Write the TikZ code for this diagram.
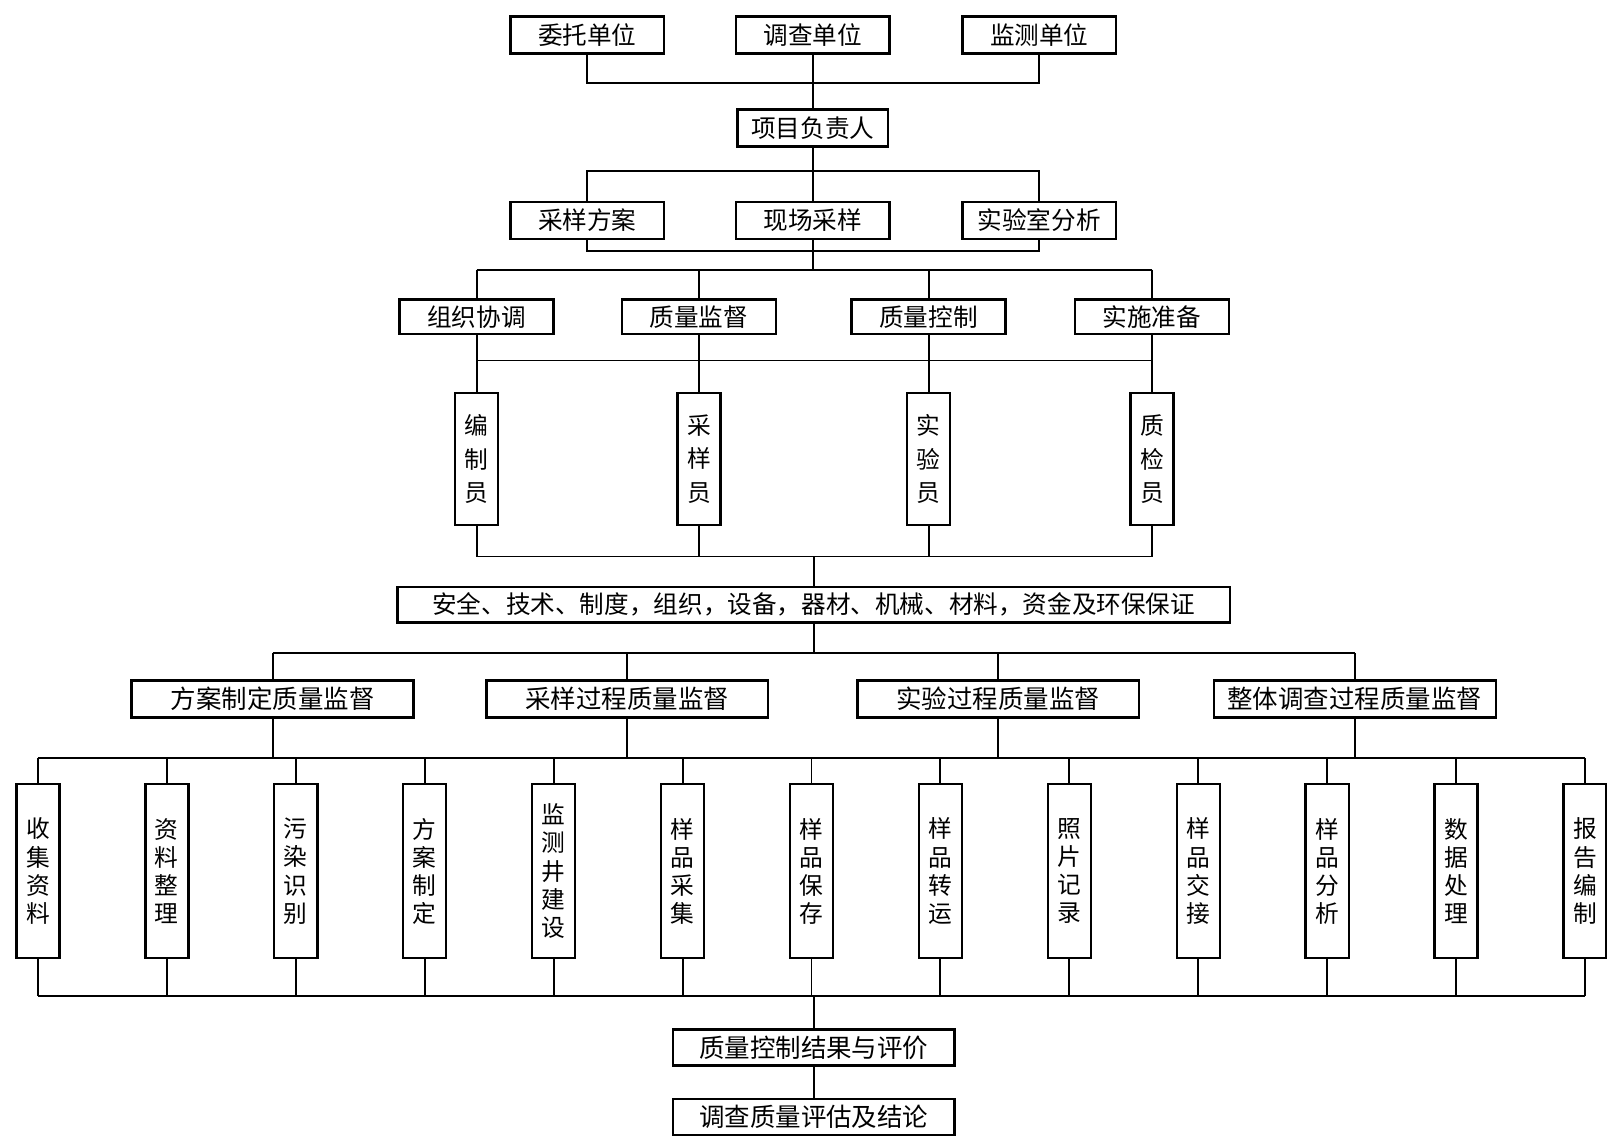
\documentclass[tikz,border=0pt]{standalone}
\usepackage{fontspec}
\setmainfont{Noto Sans CJK SC}
\newlength{\px}
\setlength{\px}{0.0204974cm}
\begin{document}
\begin{tikzpicture}[x=\px, y=-\px,
  box/.style={draw, line width=1.4pt, inner sep=0pt, fill=white, font=\fontsize{14}{16}\selectfont},
  tbox/.style={box, minimum width=150\px, minimum height=36\px},
  mbox/.style={box, minimum width=150\px, minimum height=34\px},
  vbox/.style={box, minimum width=42\px, minimum height=129\px, align=center, font=\fontsize{13.5}{19}\selectfont},
  wbox/.style={box, minimum width=42\px, minimum height=170\px, align=center, font=\fontsize{13.5}{16}\selectfont},
  qbox/.style={box, minimum width=275\px, minimum height=36\px, font=\fontsize{14.5}{16}\selectfont},
  lbox/.style={box, minimum width=812\px, minimum height=35\px, font=\fontsize{14}{16}\selectfont},
  link/.style={line width=1.1pt},
  thin/.style={line width=0.7pt}]
\useasboundingbox[fill=white] (0,0) rectangle (1568,1108);

% bus level coordinates
\coordinate (b1) at (0,81);
\coordinate (b2) at (0,167);
\coordinate (b3) at (0,245);
\coordinate (b4) at (0,263);
\coordinate (b5) at (0,352);
\coordinate (b6) at (0,543);
\coordinate (b7) at (0,637);
\coordinate (b8) at (0,740);
\coordinate (b9) at (0,972);

% top units
\node[tbox] (t1) at (573,34) {委托单位};
\node[tbox] (t2) at (793,34) {调查单位};
\node[tbox] (t3) at (1014,34) {监测单位};
\node[tbox, minimum width=147\px] (pm) at (793,125) {项目负责人};

\node[tbox] (s1) at (573,215) {采样方案};
\node[tbox] (s2) at (793,215) {现场采样};
\node[tbox] (s3) at (1014,215) {实验室分析};

\node[mbox] (m1) at (465,309) {组织协调};
\node[mbox] (m2) at (682,309) {质量监督};
\node[mbox] (m3) at (906,309) {质量控制};
\node[mbox] (m4) at (1124,309) {实施准备};

\node[vbox] (v1) at (465,448) {编\\制\\员};
\node[vbox] (v2) at (682,448) {采\\样\\员};
\node[vbox] (v3) at (906,448) {实\\验\\员};
\node[vbox] (v4) at (1124,448) {质\\检\\员};

\node[lbox] (L) at (794,590) {安全、技术、制度，组织，设备，器材、机械、材料，资金及环保保证};

\node[qbox] (q1) at (266,682) {方案制定质量监督};
\node[qbox] (q2) at (612,682) {采样过程质量监督};
\node[qbox] (q3) at (974,682) {实验过程质量监督};
\node[qbox] (q4) at (1322,682) {整体调查过程质量监督};

\foreach \i/\t in {0/{收\\集\\资\\料},1/{资\\料\\整\\理},2/{污\\染\\识\\别},3/{方\\案\\制\\定},4/{监\\测\\井\\建\\设},5/{样\\品\\采\\集},6/{样\\品\\保\\存},7/{样\\品\\转\\运},8/{照\\片\\记\\录},9/{样\\品\\交\\接},10/{样\\品\\分\\析},11/{数\\据\\处\\理},12/{报\\告\\编\\制}}
  \node[wbox] (w\i) at ({37+125.8*\i},850) {\t};

\node[qbox, minimum height=35\px] (r1) at (794,1022) {质量控制结果与评价};
\node[qbox, minimum height=35\px] (r2) at (794,1090) {调查质量评估及结论};

% connectors: top
\draw[link] (t1.south) -- (t1.south |- b1) -- (t3.south |- b1) -- (t3.south);
\draw[link] (t2.south) -- (pm.north);
% pm to schemes
\draw[link] (pm.south) -- (pm.south |- b2);
\draw[link] (s1.north) -- (s1.north |- b2) -- (s3.north |- b2) -- (s3.north);
\draw[link] (pm.south |- b2) -- (s2.north);
% schemes to four
\draw[link] (s1.south) -- (s1.south |- b3) -- (s3.south |- b3) -- (s3.south);
\draw[link] (s2.south) -- (s2.south |- b4);
\draw[link] (m1.north |- b4) -- (m4.north |- b4);
\foreach \m in {m1,m2,m3,m4} \draw[link] (\m.north |- b4) -- (\m.north);
% four to staff
\foreach \m/\v in {m1/v1,m2/v2,m3/v3,m4/v4} \draw[link] (\m.south) -- (\v.north);
\draw[thin] (v1.north |- b5) -- (v4.north |- b5);
% staff to guarantee
\foreach \v in {v1,v2,v3,v4} \draw[link] (\v.south) -- (\v.south |- b6);
\draw[link] (v1.south |- b6) -- (v4.south |- b6);
\draw[link] (L.north |- b6) -- (L.north);
% guarantee to supervision
\draw[link] (L.south) -- (L.south |- b7);
\draw[link] (q1.north |- b7) -- (q4.north |- b7);
\foreach \q in {q1,q2,q3,q4} \draw[link] (\q.north |- b7) -- (\q.north);
% supervision to tasks
\foreach \q in {q1,q2,q3,q4} \draw[link] (\q.south) -- (\q.south |- b8);
\draw[link] (w0.north |- b8) -- (w12.north |- b8);
\foreach \i in {0,...,12} \draw[link] (w\i.north |- b8) -- (w\i.north);
% tasks to results
\foreach \i in {0,...,12} \draw[link] (w\i.south) -- (w\i.south |- b9);
\draw[link] (w0.south |- b9) -- (w12.south |- b9);
\draw[link] (r1.north |- b9) -- (r1.north);
\draw[link] (r1.south) -- (r2.north);
\end{tikzpicture}
\end{document}
